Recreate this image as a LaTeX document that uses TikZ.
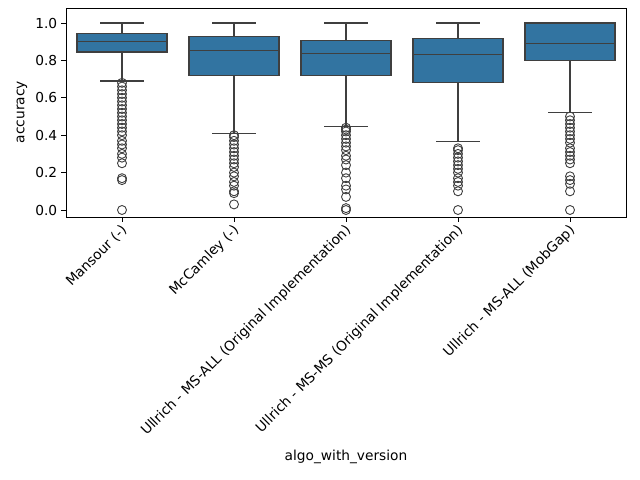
\documentclass[tikz,border=0pt]{standalone}
\usepackage{fontspec}
\setmainfont{DejaVu Sans}
\definecolor{boxblue}{HTML}{3274A1}
\definecolor{boxline}{HTML}{3F3F3F}
\begin{document}
\begin{tikzpicture}[x=1bp,y=-1bp,
	box/.style={fill=boxblue,draw=boxline,line width=1.1bp},
	wsk/.style={draw=boxline,line width=1.1bp},
	flier/.style={draw=boxline,line width=0.9bp},
	tick/.style={font=\fontsize{13.8}{15}\selectfont},
]
	\useasboundingbox (0,0) rectangle (640,480);
	% y value -> pixel
	\def\py#1{210-187*#1}
	% axes frame
	\draw[line width=0.9bp] (66,8) rectangle (626,217);
	\foreach \v/\l in {0/0.0,0.2/0.2,0.4/0.4,0.6/0.6,0.8/0.8,1/1.0}{
		\draw[line width=0.9bp] (66,{\py{\v}}) -- (61,{\py{\v}})
			node[tick,anchor=east] {\l};
	}
	\node[tick,rotate=90] (ylab) at (22,112) {accuracy};
	\node[tick] (xlab) at (346,457) {algo\_with\_version};
	% boxes: x / lower whisker / q1 / median / q3 / upper whisker / label
	\foreach \x/\lw/\qa/\md/\qc/\uw/\name in {
		122/0.69/0.845/0.9/0.945/1.0/Mansour (-),
		234/0.41/0.72/0.855/0.93/1.0/McCamley (-),
		346/0.445/0.72/0.835/0.905/1.0/Ullrich - MS-ALL (Original Implementation),
		458/0.365/0.68/0.83/0.915/1.0/Ullrich - MS-MS (Original Implementation),
		570/0.52/0.8/0.89/1.0/1.0/Ullrich - MS-ALL (MobGap)}{
		\draw[wsk] (\x,{\py{\lw}}) -- (\x,{\py{\qa}});
		\draw[wsk] (\x,{\py{\qc}}) -- (\x,{\py{\uw}});
		\draw[wsk] (\x-22,{\py{\lw}}) -- (\x+22,{\py{\lw}});
		\draw[wsk] (\x-22,{\py{\uw}}) -- (\x+22,{\py{\uw}});
		\draw[box] (\x-45,{\py{\qa}}) rectangle (\x+45,{\py{\qc}});
		\draw[wsk] (\x-45,{\py{\md}}) -- (\x+45,{\py{\md}});
		\draw[line width=0.9bp] (\x,217) -- (\x,222);
		\node[tick,rotate=45,anchor=north east,inner sep=1bp] at (\x-2,222) {\name};
	}
	% outliers
	\foreach \v in {0.68,0.66,0.64,0.62,0.6,0.58,0.56,0.54,0.52,0.5,0.48,0.46,0.44,0.42,0.4,0.37,0.35,0.33,0.3,0.28,0.25,0.17,0.16,0}
		\draw[flier] (122,{\py{\v}}) circle (4.5);
	\foreach \v in {0.4,0.39,0.37,0.35,0.33,0.31,0.29,0.27,0.25,0.23,0.2,0.18,0.15,0.13,0.1,0.09,0.03}
		\draw[flier] (234,{\py{\v}}) circle (4.5);
	\foreach \v in {0.44,0.43,0.42,0.4,0.38,0.36,0.34,0.32,0.29,0.27,0.24,0.2,0.17,0.13,0.11,0.07,0.01,0}
		\draw[flier] (346,{\py{\v}}) circle (4.5);
	\foreach \v in {0.33,0.32,0.3,0.28,0.26,0.24,0.22,0.2,0.17,0.15,0.13,0.1,0}
		\draw[flier] (458,{\py{\v}}) circle (4.5);
	\foreach \v in {0.5,0.48,0.46,0.44,0.42,0.4,0.38,0.36,0.33,0.31,0.29,0.27,0.25,0.18,0.16,0.14,0.1,0}
		\draw[flier] (570,{\py{\v}}) circle (4.5);
\end{tikzpicture}
\end{document}
